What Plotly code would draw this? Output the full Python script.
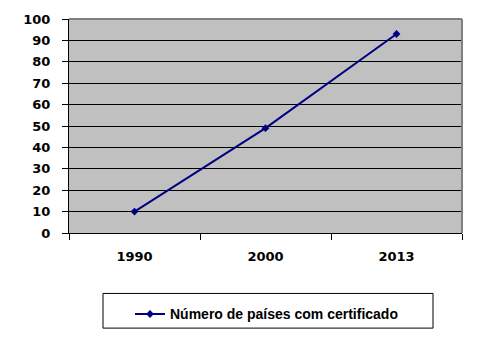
import plotly.graph_objects as go

years = ["1990", "2000", "2013"]
values = [10, 49, 93]
series_name = "Número de países com certificado"
y_ticks = list(range(0, 101, 10))

fig = go.Figure()
fig.add_trace(go.Scatter(
    x=years, y=values, mode="lines+markers", name=series_name,
    line=dict(color="#000080", width=2),
    marker=dict(symbol="diamond", size=6, color="#000080"),
))

L, R, T, B = 69, 15, 17, 112
W, H = 477, 345
pw, ph = W - L - R, H - T - B

def px(x):
    return (x - L) / pw

def py(y):
    return (H - B - y) / ph

fig.update_layout(
    width=W, height=H,
    margin=dict(l=L, r=R, t=T, b=B, pad=0),
    paper_bgcolor="white", plot_bgcolor="#C0C0C0",
    showlegend=True,
    legend=dict(
        x=px(130), y=py(299), xanchor="left", yanchor="top",
        bgcolor="rgba(0,0,0,0)", borderwidth=0,
        font=dict(family="Liberation Sans", size=14, color="black", weight="bold"),
    ),
    xaxis=dict(
        type="category", range=[-0.5, 2.5],
        showline=True, linecolor="black", linewidth=1,
        ticks="outside", tickson="boundaries", ticklen=6, tickcolor="black",
        showgrid=False, ticklabelstandoff=11,
        tickfont=dict(family="DejaVu Sans", size=13, color="black", weight="bold"),
    ),
    yaxis=dict(
        range=[0, 100], tickvals=y_ticks,
        showline=True, linecolor="black", linewidth=1,
        ticks="outside", ticklen=6, tickcolor="black",
        showgrid=True, gridcolor="black", gridwidth=1,
        zeroline=False, ticklabelstandoff=9,
        tickfont=dict(family="DejaVu Sans", size=13, color="black", weight="bold"),
    ),
    shapes=[
        dict(type="line", xref="paper", yref="paper", x0=0, x1=1, y0=1, y1=1,
             line=dict(color="#808080", width=2)),
        dict(type="line", xref="paper", yref="paper", x0=1, x1=1, y0=0, y1=1,
             line=dict(color="#808080", width=2)),
        dict(type="rect", xref="paper", yref="paper",
             x0=px(103), x1=px(433), y0=py(329), y1=py(294),
             line=dict(color="black", width=1)),
    ],
)

fig.write_html("out.html")
